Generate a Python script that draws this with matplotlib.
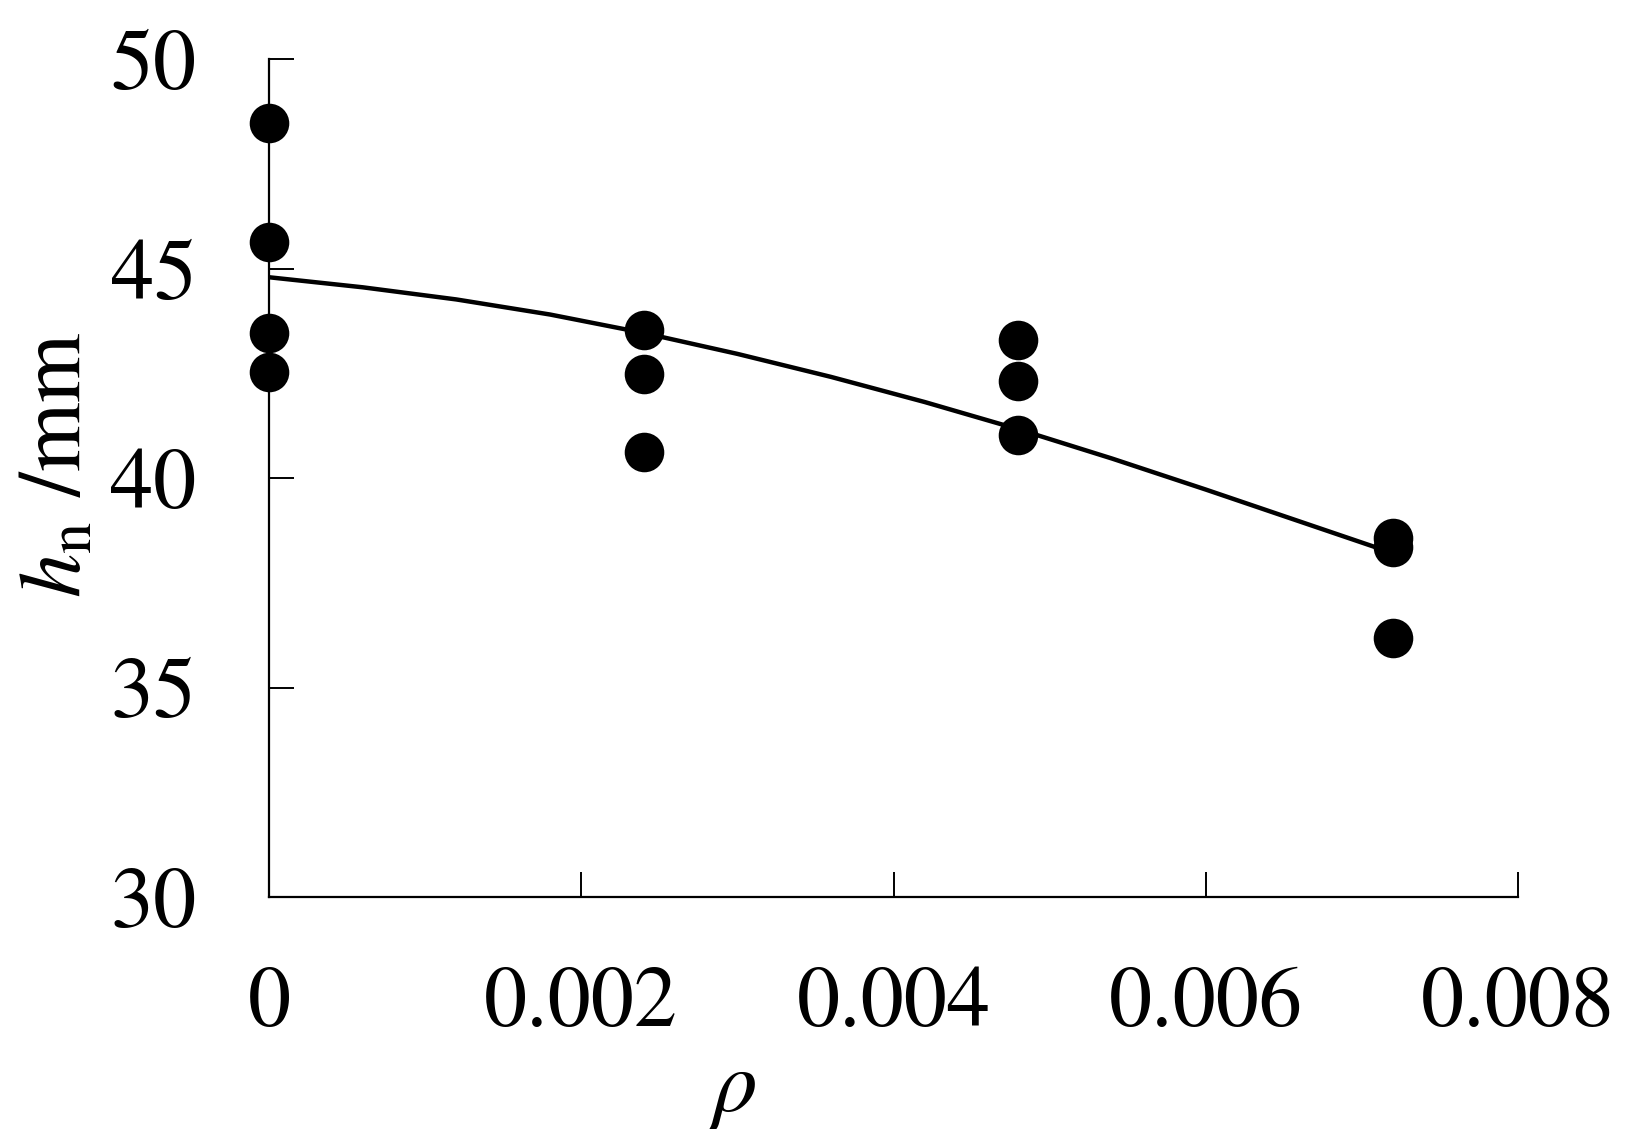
import matplotlib
matplotlib.use("Agg")
import matplotlib.pyplot as plt

# Data
rho_points = [0, 0, 0, 0,
              0.0024, 0.0024, 0.0024,
              0.0048, 0.0048, 0.0048,
              0.0072, 0.0072, 0.0072]
hn_points = [48.48, 45.64, 43.47, 42.54,
             43.54, 42.49, 40.63,
             43.30, 42.32, 41.03,
             38.57, 38.36, 36.19]

rho_curve = [0, 0.0006, 0.0012, 0.0018, 0.0024, 0.0030, 0.0036,
             0.0042, 0.0048, 0.0054, 0.0060, 0.0066, 0.0072]
hn_curve = [44.80, 44.56, 44.27, 43.91, 43.47, 42.97, 42.42,
            41.82, 41.17, 40.47, 39.73, 38.97, 38.21]

x_ticks = [0, 0.002, 0.004, 0.006, 0.008]
x_ticklabels = ["0", "0.002", "0.004", "0.006", "0.008"]
y_ticks = [30, 35, 40, 45, 50]
y_ticklabels = ["30", "35", "40", "45", "50"]

plt.rcParams['font.family'] = ['STIXGeneral', 'DejaVu Serif']
plt.rcParams['mathtext.fontset'] = 'stix'

fig = plt.figure(figsize=(16.36, 11.44), dpi=100)
ax = fig.add_axes([0.1644, 0.2159, 0.7635, 0.7321])

ax.plot(rho_curve, hn_curve, color='black', lw=3.2, zorder=2,
        solid_joinstyle='round')
ax.plot(rho_points, hn_points, 'o', color='black', markersize=28.5,
        markeredgewidth=0, zorder=3, clip_on=False)

ax.set_xlim(0, 0.008)
ax.set_ylim(30, 50)
ax.set_xticks(x_ticks)
ax.set_xticklabels(x_ticklabels)
ax.set_yticks(y_ticks)
ax.set_yticklabels(y_ticklabels)

for s in ['top', 'right']:
    ax.spines[s].set_visible(False)
for s in ['left', 'bottom']:
    ax.spines[s].set_linewidth(1.6)

ax.tick_params(axis='both', direction='in', length=18, width=1.4,
               labelsize=62)
ax.tick_params(axis='y', pad=52)
ax.tick_params(axis='x', pad=50)

ax.text(0.371, -0.232, r'$\rho$', transform=ax.transAxes, fontsize=64,
        ha='center', va='center')
ax.text(-0.168, 0.516, r'$h_{\mathrm{n}}$ /mm', transform=ax.transAxes,
        fontsize=64, ha='center', va='center', rotation=90)

fig.savefig('out.png', dpi=100)
